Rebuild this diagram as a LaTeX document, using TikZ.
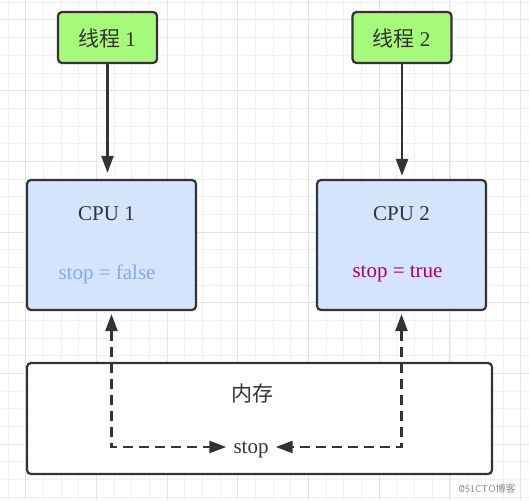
\documentclass[tikz,border=0pt]{standalone}
\usepackage{fontspec}
\setmainfont{Liberation Serif}
\newfontfamily\cjk{Noto Sans CJK SC}
\usetikzlibrary{arrows.meta}
\definecolor{gridminor}{HTML}{F0F0F0}
\definecolor{gridmajor}{HTML}{E4E4E4}
\definecolor{edgec}{HTML}{333333}
\definecolor{thrfill}{HTML}{A6FA7A}
\definecolor{cpufill}{HTML}{D4E4FC}
\definecolor{falsec}{HTML}{80AAF5}
\definecolor{truec}{HTML}{B0005C}
\definecolor{wmark}{HTML}{8A8A8A}
\tikzset{
  boxbase/.style={draw=edgec, line width=2.2pt, rounded corners=4pt, inner sep=0pt},
  thrbox/.style={boxbase, fill=thrfill, minimum width=99pt, minimum height=51pt},
  cpubox/.style={boxbase, fill=cpufill, minimum width=169pt, minimum height=130pt},
  membox/.style={boxbase, fill=white, minimum width=465pt, minimum height=111pt},
  lbl/.style={font=\fontsize{21}{25}\selectfont, text=edgec, inner sep=1pt},
  solidarrow/.style={draw=edgec, line width=2.4pt, -{Triangle[length=17pt,width=12pt]}},
  dasharrow/.style={draw=edgec, line width=2.4pt, dash pattern=on 10pt off 6pt,
     {Triangle[length=17pt,width=12pt]}-{Triangle[length=17pt,width=12pt]}}
}
\begin{document}
\begin{tikzpicture}[x=1pt,y=-1pt]
\fill[white] (0,0) rectangle (529,500);
\useasboundingbox (0,0) rectangle (529,500);
% grid
\foreach \i in {0,...,30} {
  \pgfmathsetmacro\xx{8.0+\i*17.68}
  \draw[gridminor, line width=1pt] (\xx,0) -- (\xx,500);
  \pgfmathsetmacro\yy{2.3+\i*17.68}
  \draw[gridminor, line width=1pt] (0,\yy) -- (529,\yy);
}
\foreach \i in {0,...,7} {
  \pgfmathsetmacro\xx{25.7+\i*70.7}
  \draw[gridmajor, line width=1pt] (\xx,0) -- (\xx,500);
  \pgfmathsetmacro\yy{20.0+\i*70.7}
  \draw[gridmajor, line width=1pt] (0,\yy) -- (529,\yy);
}
% boxes
\node[thrbox] (t1) at (107.5,37.5) {};
\node[thrbox] (t2) at (402,37.5) {};
\node[cpubox] (cpu1) at (111.5,245) {};
\node[cpubox] (cpu2) at (401.5,245) {};
\node[membox] (mem) at (259.5,418.5) {};
% labels
\node[lbl] (t1l) at (107,38) {{\cjk 线程} 1};
\node[lbl] (t2l) at (401.5,38) {{\cjk 线程} 2};
\node[lbl] (c1l) at (106.5,214) {CPU 1};
\node[lbl] (c2l) at (401.5,214) {CPU 2};
\node[lbl, text=falsec] (s1) at (107,274) {stop = false};
\node[lbl, text=truec] (s2) at (397.5,274) {stop = true};
\node[lbl] (meml) at (252,394) {\cjk 内存};
\node[lbl, inner sep=7pt, text depth=0pt, text height=12.5pt] (stop) at (251,447) {stop};
\node[font=\fontsize{10}{12}\selectfont\sffamily, text=wmark, inner sep=0pt] (wm) at (487,489) {@51CTO{\cjk 博客}};
% connectors
\draw[solidarrow, shorten >=6pt] (t1.south) -- (t1.south |- cpu1.north);
\draw[solidarrow, shorten >=3pt] (t2.south) -- (t2.south |- cpu2.north);
\draw[dasharrow, shorten <=3pt] (cpu1.south) |- (stop.west);
\draw[dasharrow, shorten <=3pt] (cpu2.south) |- (stop.east);
\end{tikzpicture}
\end{document}
